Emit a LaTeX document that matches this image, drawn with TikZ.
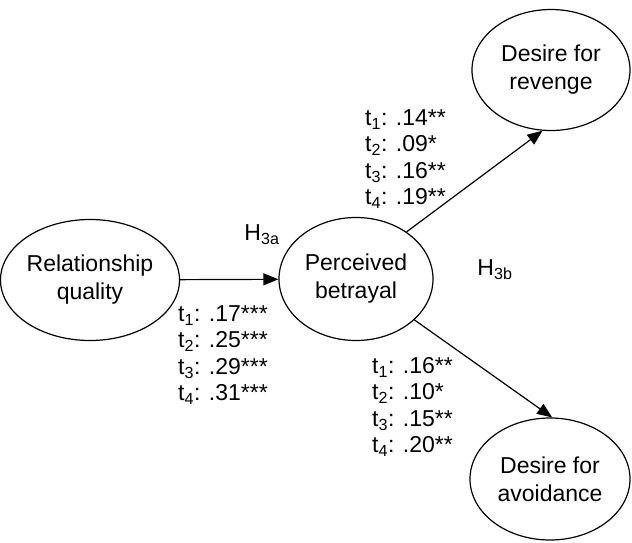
\documentclass[tikz,border=0pt]{standalone}
\usepackage{fontspec}
\setmainfont{Liberation Sans}
\usetikzlibrary{shapes.geometric,arrows.meta}
\begin{document}
\begin{tikzpicture}[x=1pt,y=-1pt,
  construct/.style={draw, line width=1.2pt, ellipse, inner sep=0pt, align=center,
    font=\fontsize{23}{28}\selectfont},
  stats/.style={anchor=west, inner sep=0pt, align=left,
    font=\fontsize{23}{26.5}\selectfont},
  hyp/.style={inner sep=0pt, font=\fontsize{23}{26.5}\selectfont},
  path/.style={line width=1.2pt, -{Triangle[length=15pt,width=12pt]}}]
\useasboundingbox (0,0) rectangle (632,542);
\node[construct, minimum width=164pt, minimum height=121pt] (rq) at (90,280) {Relationship\\quality};
\node[construct, minimum width=154pt, minimum height=123pt] (pb) at (356,279) {Perceived\\betrayal};
\node[construct, minimum width=158pt, minimum height=121pt] (rev) at (551,70) {Desire for\\revenge};
\node[construct, minimum width=160pt, minimum height=122pt] (avo) at (550,479) {Desire for\\avoidance};
\draw[path] (rq) -- (pb);
\draw[path] (pb.43) -- (rev.262);
\draw[path] (pb.-35) -- (avo.88);
\node[hyp] (h3a) at (262,235) {H\textsubscript{3a}};
\node[hyp] (h3b) at (495,270) {H\textsubscript{3b}};
\node[stats] (s1) at (178,355) {t\textsubscript{1}: .17***\\t\textsubscript{2}: .25***\\t\textsubscript{3}: .29***\\t\textsubscript{4}: .31***};
\node[stats] (s2) at (365,159) {t\textsubscript{1}: .14**\\t\textsubscript{2}: .09*\\t\textsubscript{3}: .16**\\t\textsubscript{4}: .19**};
\node[stats] (s3) at (372,407) {t\textsubscript{1}: .16**\\t\textsubscript{2}: .10*\\t\textsubscript{3}: .15**\\t\textsubscript{4}: .20**};
\end{tikzpicture}
\end{document}
